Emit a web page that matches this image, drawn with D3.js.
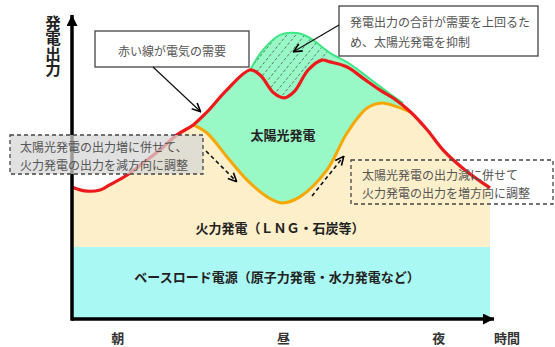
<!DOCTYPE html>
<html>
<head>
<meta charset="utf-8">
<title>発電出力</title>
<script src="https://cdn.jsdelivr.net/npm/d3@7"></script>
<style>
  body { margin: 0; background: #fff; }
  svg { display: block; font-family: "Noto Sans CJK JP", "Noto Sans", sans-serif; }
</style>
</head>
<body>
<svg id="chart" width="555" height="347"></svg>
<script>
// demand (red line), x = time of day 0..100, y = output 0..100
var demand = [[0,44],[3,42.7],[6.7,43],[9,44.7],[13.2,48],[17,52],[21,56.3],[25,61.3],[29,64.7],
  [32.3,69],[37,76.3],[42.6,83],[45,81.3],[48.3,75.3],[50.7,73.7],[53.1,75.7],[56.5,83],[59.8,86.3],
  [61.7,85.7],[65.8,84],[69.6,80.3],[73.7,76.3],[77,73.5],[81,69],[85,63],[88.8,56.3],[94,49.7],[100,43.7]];
// thermal output where it leaves the demand line (orange line)
var thermal = [[29,64.7],[32.3,62],[37.1,54],[41.9,46.3],[46.7,40.7],[50.2,38.7],[54.5,40.7],
  [61,49.7],[65.8,62],[70.6,70.3],[74.2,72],[77.8,70.7],[81,69]];
// solar potential above demand (green line)
var solarTop = [[42.6,83],[45.7,89.7],[49.8,94.7],[53.8,95.3],[56.9,93.7],[61.7,88.7],[66.5,85],
  [71.3,80],[76.1,75],[79.2,72]];
var baseLoad = 24;
var timeLabels = ["朝", "昼", "夜"];
var timePos = [10.8, 50.5, 87.6];

var svg = d3.select("#chart");
var x = d3.scaleLinear().domain([0, 100]).range([72, 490]);
var y = d3.scaleLinear().domain([0, 100]).range([319, 19]);

var curve = d3.curveCatmullRom.alpha(0.5);
var area = d3.area().x(d => x(d[0])).y0(y(0)).y1(d => y(d[1])).curve(curve);
var line = d3.line().x(d => x(d[0])).y(d => y(d[1])).curve(curve);

var thermalTop = demand.filter(d => d[0] < 29).concat(thermal).concat(demand.filter(d => d[0] > 81));

var defs = svg.append("defs");
function marker(id, path, w, h, fill) {
  defs.append("marker").attr("id", id)
    .attr("viewBox", "0 0 10 10").attr("refX", 10).attr("refY", 5)
    .attr("markerWidth", w).attr("markerHeight", h)
    .attr("markerUnits", "userSpaceOnUse").attr("orient", "auto")
    .append("path").attr("d", path)
    .attr("fill", fill ? "#000" : "none")
    .attr("stroke", "#000").attr("stroke-width", fill ? 0 : 1.6)
    .attr("stroke-dasharray", "none");
}
marker("axisHead", "M0,0L10,5L0,10Z", 12, 11, true);
marker("openHead", "M1,1L9.5,5L1,9", 10, 10, false);

defs.append("clipPath").attr("id", "solarClip")
  .append("path").attr("d", area(solarTop));
defs.append("clipPath").attr("id", "hatchBand")
  .append("rect").attr("x", 254).attr("y", 0).attr("width", 74).attr("height", 200);

// solar that is curtailed
svg.append("path").attr("d", area(solarTop)).attr("fill", "#98f9c7");
svg.append("g").attr("clip-path", "url(#hatchBand)")
  .append("g").attr("clip-path", "url(#solarClip)")
  .selectAll("line").data(d3.range(200, 340, 9)).join("line")
  .attr("x1", d => d).attr("y1", 130)
  .attr("x2", d => d + 90).attr("y2", 20)
  .attr("stroke", "#555").attr("stroke-width", 0.8).attr("stroke-dasharray", "3,2");

// solar under demand
svg.append("path").attr("d", area(demand)).attr("fill", "#98f9c7");
// thermal
svg.append("path").attr("d", area(thermalTop)).attr("fill", "#fcefc9");
// base load
svg.append("rect").attr("x", x(0)).attr("y", y(baseLoad))
  .attr("width", x(100) - x(0)).attr("height", y(0) - y(baseLoad))
  .attr("fill", "#aaf8f4");

svg.append("path").attr("d", line(solarTop)).attr("fill", "none")
  .attr("stroke", "#3ee685").attr("stroke-width", 2);
svg.append("path").attr("d", line(thermal)).attr("fill", "none")
  .attr("stroke", "#f6a800").attr("stroke-width", 3);
svg.append("path").attr("d", line(demand)).attr("fill", "none")
  .attr("stroke", "#ec1a1a").attr("stroke-width", 3.2);

// axes
var xAxis = svg.append("g").attr("transform", "translate(0," + y(0) + ")")
  .call(d3.axisBottom(x).tickValues(timePos).tickSize(0).tickFormat((d, i) => timeLabels[i]));
xAxis.select(".domain").remove();
xAxis.selectAll("text").attr("y", 24).attr("dy", 0)
  .attr("font-size", 13).attr("font-weight", "bold").attr("fill", "#333")
  .attr("font-family", "Noto Sans CJK JP");

svg.append("line").attr("x1", 72).attr("y1", y(0)).attr("x2", 494).attr("y2", y(0))
  .attr("stroke", "#000").attr("stroke-width", 3.5).attr("marker-end", "url(#axisHead)");
svg.append("line").attr("x1", 72).attr("y1", y(0) + 1.7).attr("x2", 72).attr("y2", 15)
  .attr("stroke", "#000").attr("stroke-width", 3.5).attr("marker-end", "url(#axisHead)");

svg.append("text").attr("x", 494).attr("y", 343).text("時間")
  .attr("font-size", 13).attr("font-weight", "bold").attr("fill", "#333");
svg.append("text").attr("x", 53).attr("y", 15).text("発電出力")
  .style("writing-mode", "vertical-rl")
  .attr("font-size", 15.5).attr("font-weight", "bold").attr("fill", "#222");

// area labels
function label(tx, ty, s) {
  svg.append("text").attr("x", tx).attr("y", ty).text(s)
    .attr("text-anchor", "middle").attr("font-size", 13).attr("font-weight", "bold").attr("fill", "#222");
}
label(283, 140, "太陽光発電");
label(280, 233, "火力発電（ＬＮＧ・石炭等）");
label(277, 282, "ベースロード電源（原子力発電・水力発電など）");

// callouts
function box(bx, by, w, h, dashed, fill, op) {
  svg.append("rect").attr("x", bx).attr("y", by).attr("width", w).attr("height", h)
    .attr("fill", fill).attr("fill-opacity", op)
    .attr("stroke", "#444").attr("stroke-width", 1.3)
    .attr("stroke-dasharray", dashed ? "4,3" : null);
}
function note(tx, ty, s, anchor) {
  svg.append("text").attr("x", tx).attr("y", ty).text(s)
    .attr("text-anchor", anchor || "start").attr("font-size", 12).attr("fill", "#555");
}
function arrow(x1, y1, x2, y2, dashed) {
  svg.append("line").attr("x1", x1).attr("y1", y1).attr("x2", x2).attr("y2", y2)
    .attr("stroke", "#111").attr("stroke-width", dashed ? 1.6 : 1.2)
    .attr("stroke-dasharray", dashed ? "4,3" : null)
    .attr("marker-end", "url(#openHead)");
}

box(95, 31, 154, 36, false, "#fff", 1);
note(172, 56, "赤い線が電気の需要", "middle");
arrow(153, 67, 201, 112, false);

box(339, 6, 199, 50, false, "#fff", 1);
note(350, 27, "発電出力の合計が需要を上回るた");
note(350, 47, "め、太陽光発電を抑制");
arrow(339, 25, 293, 52, false);

box(10, 135, 193, 39, true, "#d5d5d5", 0.72);
note(20, 152, "太陽光発電の出力増に併せて、");
note(20, 170, "火力発電の出力を減方向に調整");
arrow(206, 151, 237, 182, true);

box(351, 160, 202, 44, true, "none", 0);
note(362, 180, "太陽光発電の出力減に併せて");
note(362, 198, "火力発電の出力を増方向に調整");
arrow(312, 196, 344, 156, true);
</script>
</body>
</html>
